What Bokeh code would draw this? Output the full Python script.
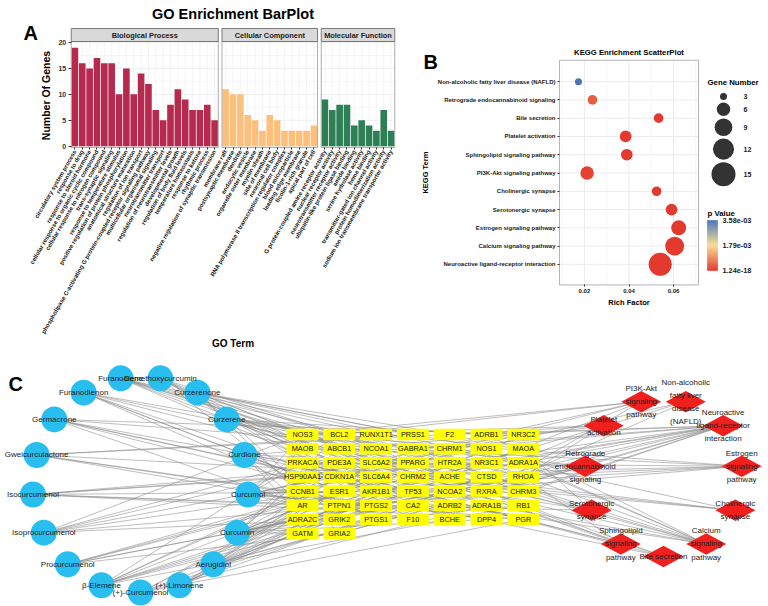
import math
import numpy as np
from bokeh.plotting import figure
from bokeh.models import Range1d, FactorRange, FixedTicker, ColumnDataSource, LinearColorMapper
from bokeh.layouts import row, column
from bokeh.core.properties import value
from bokeh.embed import file_html
from bokeh.resources import INLINE

FONT = "Liberation Sans"

# ---------------- data: GO enrichment ----------------
go_facets = ["Biological Process", "Cellular Component", "Molecular Function"]
bp_terms = [
    "circulatory system process",
    "response to drug",
    "response to steroid hormone",
    "cellular response to organic cyclic compound",
    "cellular response to nitrogen compound",
    "trans-synaptic signaling",
    "response to temperature stimulus",
    "positive regulation of protein phosphorylation",
    "anatomical structure maturation",
    "regulation of ion transport",
    "phospholipase C-activating G protein-coupled receptor signaling pathway",
    "multicellular organismal signaling",
    "neurotransmitter transport",
    "regulation of neurotransmitter levels",
    "developmental growth",
    "regulation of body fluid levels",
    "temperature homeostasis",
    "response to ketone",
    "rhythmic process",
    "negative regulation of synaptic transmission",
]
bp_counts = [19, 16, 15, 17, 16, 16, 10, 15, 10, 14, 12, 7, 5, 8, 11, 9, 7, 7, 8, 5]
cc_terms = [
    "membrane raft",
    "postsynaptic membrane",
    "dendrite",
    "endocytic vesicle",
    "organelle outer membrane",
    "myelin sheath",
    "side of membrane",
    "neuronal cell body",
    "RNA polymerase II transcription regulator complex",
    "blood microparticle",
    "leading edge membrane",
    "ficolin-1-rich granule",
    "apical part of cell",
]
cc_counts = [11, 10, 10, 6, 5, 3, 6, 5, 3, 3, 3, 3, 4]
mf_terms = [
    "G protein-coupled amine receptor activity",
    "nuclear receptor activity",
    "neurotransmitter receptor activity",
    "ubiquitin-like protein ligase binding",
    "amide binding",
    "serine hydrolase activity",
    "heme binding",
    "transmitter-gated ion channel activity",
    "protein homodimerization activity",
    "sodium ion transmembrane transporter activity",
]
mf_counts = [9, 7, 8, 8, 4, 5, 4, 3, 7, 3]
go_colors = ["#B62A4E", "#FDBF7C", "#2D7F56"]
go_yticks = [0, 5, 10, 15, 20]

# ---------------- data: KEGG enrichment ----------------
kegg_terms = [
    "Non-alcoholic fatty liver disease (NAFLD)",
    "Retrograde endocannabinoid signaling",
    "Bile secretion",
    "Platelet activation",
    "Sphingolipid signaling pathway",
    "PI3K-Akt signaling pathway",
    "Cholinergic synapse",
    "Serotonergic synapse",
    "Estrogen signaling pathway",
    "Calcium signaling pathway",
    "Neuroactive ligand-receptor interaction",
]
rich_factor = [0.0173, 0.0236, 0.0533, 0.0385, 0.0390, 0.0212, 0.0524, 0.0591, 0.0623, 0.0605, 0.0540]
gene_number = [3, 4, 4, 5, 5, 6, 4, 5, 7, 10, 14]
p_value = [3.58e-3, 4.0e-4, 2.1e-5, 1.6e-5, 1.3e-5, 8.5e-5, 3.2e-6, 1.1e-6, 2.4e-7, 5.6e-11, 1.24e-18]
rich_ticks = [0.02, 0.04, 0.06]
rich_minor = [0.01, 0.03, 0.05, 0.07]
size_breaks = [3, 6, 9, 12, 15]
p_breaks = [3.58e-3, 1.79e-3, 1.24e-18]
p_break_labels = ["3.58e-03", "1.79e-03", "1.24e-18"]

# ---------------- data: network ----------------
compounds = ["Curcumol", "Curcumin", "Aerugidiol", "(+)-Limonene", "(+)-Curcumenol", "β-Elemene",
             "Procurcumenol", "Isoprocurcumenol", "Isocurcumenol", "Gweicurculactone", "Germacrone",
             "Furanodienon", "Furanodiene", "Demethoxycurcumin", "Curzerenone", "Curzerene", "Curdione"]
target_columns = [
    ["NOS3", "MAOB", "PRKACA", "HSP90AA1", "CCNB1", "AR", "ADRA2C", "GATM"],
    ["BCL2", "ABCB1", "PDE3A", "CDKN1A", "ESR1", "PTPN1", "GRIK2", "GRIA2"],
    ["RUNX1T1", "NCOA1", "SLC6A2", "SLC6A4", "AKR1B1", "PTGS2", "PTGS1"],
    ["PRSS1", "GABRA1", "PPARG", "CHRM2", "TP53", "CA2", "F10"],
    ["F2", "CHRM1", "HTR2A", "ACHE", "NCOA2", "ADRB2", "BCHE"],
    ["ADRB1", "NOS1", "NR3C1", "CTSD", "RXRA", "ADRA1B", "DPP4"],
    ["NR3C2", "MAOA", "ADRA1A", "RHOA", "CHRM3", "RB1", "PGR"],
]
pathway_ring = ["Bile secretion", "Sphingolipid signaling pathway", "Serotonergic synapse",
                "Retrograde endocannabinoid signaling", "Platelet activation", "PI3K-Akt signaling pathway",
                "Non-alcoholic fatty liver disease (NAFLD)", "Neuroactive ligand-receptor interaction",
                "Estrogen signaling pathway", "Cholinergic synapse", "Calcium signaling pathway"]
pathway_labels = {
    "Bile secretion": "Bile secretion",
    "Sphingolipid signaling pathway": "Sphingolipid\nsignaling\npathway",
    "Serotonergic synapse": "Serotonergic\nsynapse",
    "Retrograde endocannabinoid signaling": "Retrograde\nendocannabinoid\nsignaling",
    "Platelet activation": "Platelet\nactivation",
    "PI3K-Akt signaling pathway": "PI3K-Akt\nsignaling\npathway",
    "Non-alcoholic fatty liver disease (NAFLD)": "Non-alcoholic\nfatty liver\ndisease\n(NAFLD)",
    "Neuroactive ligand-receptor interaction": "Neuroactive\nligand-receptor\ninteraction",
    "Estrogen signaling pathway": "Estrogen\nsignaling\npathway",
    "Cholinergic synapse": "Cholinergic\nsynapse",
    "Calcium signaling pathway": "Calcium\nsignaling\npathway",
}
kegg_genes = {
    "Non-alcoholic fatty liver disease (NAFLD)": ["RXRA", "PPARG", "PTPN1"],
    "Retrograde endocannabinoid signaling": ["GABRA1", "GRIA2", "PRKACA", "PTGS2"],
    "Bile secretion": ["ABCB1", "CA2", "RXRA", "PRKACA"],
    "Platelet activation": ["F2", "RHOA", "PRKACA", "NOS3", "PTGS1"],
    "Sphingolipid signaling pathway": ["BCL2", "TP53", "RHOA", "NOS3", "PRKACA"],
    "PI3K-Akt signaling pathway": ["NOS3", "BCL2", "CDKN1A", "HSP90AA1", "TP53", "RXRA"],
    "Cholinergic synapse": ["CHRM1", "CHRM2", "CHRM3", "ACHE"],
    "Serotonergic synapse": ["HTR2A", "MAOA", "MAOB", "SLC6A4", "PTGS2"],
    "Estrogen signaling pathway": ["ESR1", "NCOA1", "NCOA2", "HSP90AA1", "PRKACA", "CTSD", "NOS3"],
    "Calcium signaling pathway": ["ADRB1", "ADRB2", "ADRA1A", "ADRA1B", "CHRM1", "CHRM2", "CHRM3",
                                  "HTR2A", "NOS1", "NOS3"],
    "Neuroactive ligand-receptor interaction": ["ADRB1", "ADRB2", "ADRA1A", "ADRA1B", "ADRA2C", "CHRM1",
                                                "CHRM2", "CHRM3", "HTR2A", "GABRA1", "GRIK2", "GRIA2",
                                                "NR3C1", "F2"],
}
compound_targets = {
    "Curcumol": ["NOS3", "MAOB", "PRKACA", "AR", "ESR1", "PTGS2", "NR3C1", "CHRM1", "ADRB2", "PGR", "NR3C2", "CCNB1"],
    "Curcumin": ["BCL2", "ABCB1", "CDKN1A", "TP53", "PTGS2", "PPARG", "ESR1", "CA2", "HSP90AA1", "AKR1B1",
                 "DPP4", "CTSD", "RB1", "GATM"],
    "Aerugidiol": ["PTGS1", "PTGS2", "NR3C2", "RXRA", "NCOA1", "PTPN1", "RUNX1T1", "AR"],
    "(+)-Limonene": ["SLC6A2", "HTR2A", "GABRA1", "CHRM1", "ADRA1A", "NOS1", "AKR1B1"],
    "(+)-Curcumenol": ["AR", "NR3C1", "ESR1", "PGR", "ADRA1B", "CA2"],
    "β-Elemene": ["BCL2", "TP53", "CDKN1A", "CCNB1", "RB1", "MAOA", "GATM", "CTSD", "ADRB1"],
    "Procurcumenol": ["CHRM2", "HTR2A", "SLC6A4", "ADRA2C", "GRIA2", "RHOA"],
    "Isoprocurcumenol": ["NOS3", "NOS1", "PDE3A", "PRKACA", "CHRM3", "ADRA1A", "GRIK2"],
    "Isocurcumenol": ["NR3C1", "AR", "PGR", "HSP90AA1", "NCOA2", "PPARG", "PTPN1"],
    "Gweicurculactone": ["PTGS2", "F2", "F10", "PRSS1", "DPP4", "ACHE"],
    "Germacrone": ["AR", "PGR", "ESR1", "NR3C2", "CHRM1", "ADRB2", "RB1"],
    "Furanodienon": ["MAOB", "PTGS1", "PTGS2", "ESR1", "NR3C1", "CA2", "CTSD"],
    "Furanodiene": ["ACHE", "BCHE", "NCOA1", "NCOA2", "RXRA", "RHOA", "PDE3A", "RUNX1T1"],
    "Demethoxycurcumin": ["BCL2", "TP53", "PTGS2", "AKR1B1", "ABCB1", "CCNB1", "F10", "BCHE"],
    "Curzerenone": ["ADRA1A", "ADRA1B", "CHRM3", "NOS1", "GRIK2", "GRIA2", "F2", "PRSS1"],
    "Curzerene": ["HTR2A", "CHRM1", "CHRM2", "SLC6A2", "SLC6A4", "MAOA", "ADRB1", "GABRA1"],
    "Curdione": ["AR", "PGR", "NR3C1", "NR3C2", "ESR1", "PTGS1", "CHRM2", "ADRA2C"],
}


def fig(**kw):
    p = figure(output_backend="svg", toolbar_location=None, min_border=0, **kw)
    p.outline_line_color = None
    p.grid.visible = False
    p.background_fill_color = "white"
    return p


def txt(p, x, y, text, size, bold=True, align="left", baseline="alphabetic", color="#000000", angle=0.0,
        line_height=1.2):
    p.text(x=x, y=y, text=text, text_font=value(FONT), text_font_size=size,
           text_font_style="bold" if bold else "normal", text_align=align, text_baseline=baseline,
           text_color=color, angle=angle, text_line_height=line_height)


def style_axis(a, label_size, label_color="#1A1A1A", bold=True, tick_out=2, standoff=2):
    a.axis_line_color = None
    a.major_tick_line_color = "#333333"
    a.major_tick_out = tick_out
    a.major_tick_in = 0
    a.minor_tick_line_color = None
    a.major_label_text_font = FONT
    a.major_label_text_font_size = label_size
    a.major_label_text_font_style = "bold" if bold else "normal"
    a.major_label_text_color = label_color
    a.major_label_standoff = standoff


# =============== Panel A (GO bar plot, facets in one figure) ===============
TOP_H = 349
SXA = 325 / 88.4          # px per x unit
SYA = 5.185               # px per gene
XA_S = -1.2 - 70 / SXA
XA_E = XA_S + 400 / SXA
YA_E = 145.7 / SYA
YA_S = YA_E - TOP_H / SYA
pA = fig(width=400, height=TOP_H, x_range=Range1d(XA_S, XA_E), y_range=Range1d(YA_S, YA_E))


def ax(rx):
    return XA_S + rx / SXA


def ay(ry):
    return YA_E - ry / SYA


all_terms = bp_terms + cc_terms + mf_terms
all_counts = bp_counts + cc_counts + mf_counts
facet_of = [0] * len(bp_terms) + [1] * len(cc_terms) + [2] * len(mf_terms)
xpos = [2 * i + f for i, f in enumerate(facet_of)]
colors = [go_colors[f] for f in facet_of]
facet_left = [min(x for x, f in zip(xpos, facet_of) if f == k) - 1 for k in range(3)]
facet_right = [max(x for x, f in zip(xpos, facet_of) if f == k) + 1 for k in range(3)]

panel_top = ay(41)
panel_bot = ay(147)
strip_top = ay(28)

gx0, gx1, gy, gc = [], [], [], []
for k in range(3):
    for t in go_yticks:
        gx0.append(facet_left[k]); gx1.append(facet_right[k]); gy.append(t); gc.append("#EBEBEB")
    for t in go_yticks[:-1]:
        gx0.append(facet_left[k]); gx1.append(facet_right[k]); gy.append(t + 2.5); gc.append("#F5F5F5")
pA.segment(x0=gx0, y0=gy, x1=gx1, y1=gy, line_color=gc, line_width=0.8)
pA.segment(x0=xpos, y0=panel_bot, x1=xpos, y1=panel_top, line_color="#EDEDED", line_width=0.6)

pA.vbar(x=xpos, top=all_counts, width=1.8, bottom=0, fill_color=colors, line_color=None)

pA.quad(left=facet_left, right=facet_right, bottom=panel_bot, top=panel_top,
        fill_color=None, line_color="#A3A3A3", line_width=0.9)
pA.quad(left=facet_left, right=facet_right, bottom=panel_top, top=strip_top,
        fill_color="#D9D9D9", line_color="#6E6E6E", line_width=0.9)
txt(pA, [(l + r) / 2 for l, r in zip(facet_left, facet_right)], [(panel_top + strip_top) / 2] * 3,
    go_facets, "7.4px", align="center", baseline="middle", color="#1A1A1A")

pA.yaxis.ticker = FixedTicker(ticks=go_yticks)
pA.yaxis.fixed_location = facet_left[0]
style_axis(pA.yaxis[0], "7px", label_color="#333333", tick_out=3, standoff=2)

pA.xaxis.ticker = FixedTicker(ticks=xpos)
pA.xaxis.fixed_location = panel_bot
pA.xaxis.major_label_overrides = {x: t for x, t in zip(xpos, all_terms)}
pA.xaxis.major_label_orientation = math.pi / 3
style_axis(pA.xaxis[0], "6px", label_color="#111111", tick_out=2, standoff=1)

txt(pA, [ax(232.5)], [ay(13.5)], ["GO Enrichment BarPlot"], "14.5px", align="center")
txt(pA, [ax(23)], [ay(32)], ["A"], "20px")
txt(pA, [ax(45)], [ay(95)], ["Number Of Genes"], "10.5px", align="center", baseline="middle",
    angle=math.pi / 2)
txt(pA, [ax(232.5)], [ay(343)], ["GO Term"], "10px", align="center", baseline="middle")

# =============== Panel B (KEGG scatter) ===============
B_H = 345
SXB = 139 / (0.0712 - 0.0088)
SYB = 23.09
XB_S = 0.0088 - 159 / SXB
XB_E = XB_S + 305 / SXB
nK = len(kegg_terms)
pad = B_H / SYB - nK
YB_E = nK + pad / 2
pB = fig(width=305, height=B_H, x_range=Range1d(XB_S, XB_E),
         y_range=FactorRange(factors=list(reversed(kegg_terms)), range_padding=pad,
                             range_padding_units="absolute"))


def bx(rx):
    return XB_S + (rx - 400) / SXB


def by(ry):
    return YB_E - ry / SYB


pl, pr, pbot, ptop = bx(559), bx(698), by(314), by(30)


def diam_of(n):
    return math.sqrt(43.9 * n - 82.7)


def mix(c1, c2, u):
    a = [int(c1[i:i + 2], 16) for i in (1, 3, 5)]
    b = [int(c2[i:i + 2], 16) for i in (1, 3, 5)]
    return "#%02x%02x%02x" % tuple(int(round(a[i] + (b[i] - a[i]) * u)) for i in range(3))


LOWC, MIDC, HIGHC = "#E3392E", "#F7DE92", "#4A74B8"
palette = [mix(LOWC, MIDC, t / 0.5) if t <= 0.5 else mix(MIDC, HIGHC, (t - 0.5) / 0.5)
           for t in np.linspace(0, 1, 256)]
mapper = LinearColorMapper(palette=palette, low=min(p_value), high=max(p_value))

pB.segment(x0=rich_minor, y0=pbot, x1=rich_minor, y1=ptop, line_color="#F4F4F4", line_width=0.8)
pB.segment(x0=rich_ticks, y0=pbot, x1=rich_ticks, y1=ptop, line_color="#EBEBEB", line_width=1)
pB.segment(x0=pl, y0=kegg_terms, x1=pr, y1=kegg_terms, line_color="#EBEBEB", line_width=1)
pB.quad(left=pl, right=pr, bottom=pbot, top=ptop, fill_color=None, line_color="#B5B5B5", line_width=1)

srcB = ColumnDataSource(dict(x=rich_factor, y=kegg_terms, size=[diam_of(n) for n in gene_number],
                             p=p_value))
pB.scatter(x="x", y="y", size="size", source=srcB, fill_color={"field": "p", "transform": mapper},
           line_color=None)

pB.xaxis.ticker = FixedTicker(ticks=rich_ticks)
pB.xaxis.fixed_location = pbot
pB.yaxis.fixed_location = pl
style_axis(pB.xaxis[0], "6px")
style_axis(pB.yaxis[0], "6px")

txt(pB, [bx(628.5)], [by(20.5)], ["KEGG Enrichment ScatterPlot"], "7.7px", align="center")
txt(pB, [bx(423)], [by(32)], ["B"], "20px")
txt(pB, [bx(425)], [by(172)], ["KEGG Term"], "7.5px", align="center", baseline="middle", angle=math.pi / 2)
txt(pB, [bx(628.5)], [by(336)], ["Rich Factor"], "7.5px", align="center", baseline="middle")

# legend for panel B (pixel coordinates)
pBL = fig(width=63, height=TOP_H, x_range=Range1d(705, 768), y_range=Range1d(TOP_H, 0))
pBL.axis.visible = False
txt(pBL, [707], [82], ["Gene Number"], "7.8px")
leg_d = [diam_of(n) for n in size_breaks]
leg_y = [96.0]
for k in range(1, len(leg_d)):
    leg_y.append(leg_y[-1] + (leg_d[k - 1] + leg_d[k] + 5) / 2)
pBL.scatter(x=[723] * len(leg_d), y=leg_y, size=leg_d, fill_color="#333333", line_color=None)
txt(pBL, [743] * len(leg_d), leg_y, [str(n) for n in size_breaks], "7px", baseline="middle",
    color="#1A1A1A")
txt(pBL, [707], [213], ["p Value"], "7.8px")
nst = 60
cb_top, cb_bot = 220.0, 270.0
edges = np.linspace(cb_top, cb_bot, nst + 1)
vals = np.linspace(max(p_value), min(p_value), nst)
cb_src = ColumnDataSource(dict(top=edges[:-1], bottom=edges[1:], v=vals))
pBL.quad(left=707, right=717, top="top", bottom="bottom", source=cb_src,
         fill_color={"field": "v", "transform": mapper}, line_color={"field": "v", "transform": mapper},
         line_width=0.5)
lab_y = [cb_bot + (cb_top - cb_bot) * (pb - min(p_value)) / (max(p_value) - min(p_value)) for pb in p_breaks]
txt(pBL, [722] * 3, lab_y, p_break_labels, "7.3px", baseline="middle", color="#1A1A1A")

# =============== Panel C (network, pixel coordinates) ===============
C_H = 606 - TOP_H
pC = fig(width=768, height=C_H, x_range=Range1d(0, 768), y_range=Range1d(606, TOP_H))
pC.axis.visible = False

pos = {}
nC = len(compounds)
a0 = 90 - 4 * 360 / nC
for k, name in enumerate(compounds):
    th = math.radians(a0 + k * 360 / nC)
    pos[name] = (140 + 108 * math.cos(th), 484 + 108 * math.sin(th))
for c, col in enumerate(target_columns):
    for r, name in enumerate(col):
        pos[name] = (302 + 36.8 * c, 434 + 14.14 * r)
nP = len(pathway_ring)
for k, name in enumerate(pathway_ring):
    th = math.radians(90 + k * 360 / nP)
    pos[name] = (663 + 79 * math.cos(th), 477 + 79 * math.sin(th))

x0, y0, x1, y1 = [], [], [], []
for comp, tl in compound_targets.items():
    for t in tl:
        x0.append(pos[comp][0]); y0.append(pos[comp][1]); x1.append(pos[t][0]); y1.append(pos[t][1])
for pw, tl in kegg_genes.items():
    for t in tl:
        x0.append(pos[t][0]); y0.append(pos[t][1]); x1.append(pos[pw][0]); y1.append(pos[pw][1])
pC.segment(x0=x0, y0=y0, x1=x1, y1=y1, line_color="#8A8A8A", line_width=0.7, line_alpha=0.8)

pC.circle(x=[pos[c][0] for c in compounds], y=[pos[c][1] for c in compounds], radius=13,
          fill_color="#29BEF0", line_color=None)
tnames = [t for col in target_columns for t in col]
pC.rect(x=[pos[t][0] for t in tnames], y=[pos[t][1] for t in tnames], width=32, height=11.5,
        fill_color="#FFFF00", line_color=None)
pC.patches(xs=[[pos[p][0] - 20, pos[p][0], pos[p][0] + 20, pos[p][0]] for p in pathway_ring],
           ys=[[pos[p][1], pos[p][1] - 10.8, pos[p][1], pos[p][1] + 10.8] for p in pathway_ring],
           fill_color="#F0201F", line_color=None)

txt(pC, [pos[t][0] for t in tnames], [pos[t][1] for t in tnames], tnames, "7.3px", bold=False,
    align="center", baseline="middle", color="#111111")
txt(pC, [pos[c][0] for c in compounds], [pos[c][1] for c in compounds], compounds, "8px", bold=False,
    align="center", baseline="middle", color="#222222")
txt(pC, [pos[p][0] for p in pathway_ring], [pos[p][1] for p in pathway_ring],
    [pathway_labels[p] for p in pathway_ring], "8px", bold=False, align="center", baseline="middle",
    color="#222222", line_height=1.45)
txt(pC, [8], [383], ["C"], "20px")

page = column(row(pA, pB, pBL), pC)
open("out.html", "w").write(file_html(page, INLINE))
